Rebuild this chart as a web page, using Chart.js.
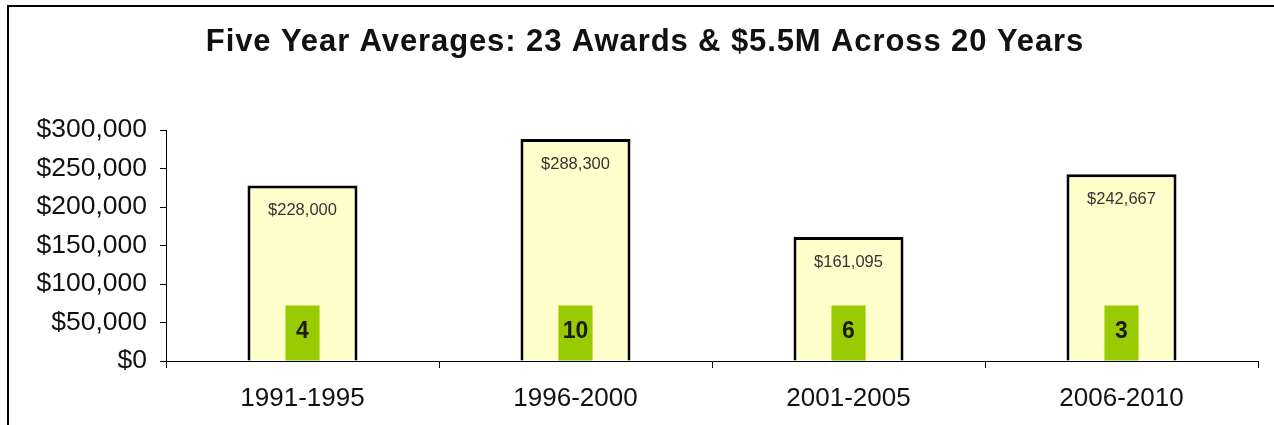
<!DOCTYPE html>
<html>
<head>
<meta charset="utf-8">
<script src="https://cdn.jsdelivr.net/npm/chart.js@4.4.1/dist/chart.umd.min.js"></script>
<style>
  html, body { margin: 0; padding: 0; background: #fff; overflow: hidden; }
  #wrap { position: relative; width: 1274px; height: 425px; }
  #frame { position: absolute; left: 7px; top: 5px; width: 1300px; height: 450px; border: 2px solid #000; pointer-events: none; }
  canvas { position: absolute; left: 0; top: 0; }
</style>
</head>
<body>
<div id="wrap">
  <canvas id="c" width="1274" height="425"></canvas>
  <div id="frame"></div>
</div>
<script>
const categories = ['1991-1995', '1996-2000', '2001-2005', '2006-2010'];
const averageAward = [228000, 288300, 161095, 242667];
const awardCounts = [4, 10, 6, 3];
const awardBoxHeight = [72000, 72000, 72000, 72000];
const titleText = 'Five Year Averages: 23 Awards & $5.5M Across 20 Years';
const yMin = 0, yMax = 300000, yStep = 50000;

const FONT = '"Liberation Sans", Arial, sans-serif';
const money = v => '$' + Math.round(v).toLocaleString('en-US');

const titlePlugin = {
  id: 'spacedTitle',
  afterDraw(chart) {
    const ctx = chart.ctx;
    ctx.save();
    ctx.font = 'bold 31px ' + FONT;
    ctx.fillStyle = '#111';
    ctx.textAlign = 'left';
    ctx.textBaseline = 'middle';
    const spacing = 0.9;
    if ('letterSpacing' in ctx) ctx.letterSpacing = spacing + 'px';
    const w = ctx.measureText(titleText).width;
    ctx.fillText(titleText, 645 - w / 2, 42);
    ctx.restore();
  }
};

const labelPlugin = {
  id: 'barLabels',
  afterDatasetsDraw(chart) {
    const ctx = chart.ctx;
    ctx.save();
    ctx.textAlign = 'center';
    ctx.textBaseline = 'middle';
    const metaY = chart.getDatasetMeta(1);
    metaY.data.forEach((bar, i) => {
      ctx.font = '16.5px ' + FONT;
      ctx.fillStyle = '#333';
      ctx.fillText(money(averageAward[i]), bar.x, bar.y + 25);
    });
    const metaG = chart.getDatasetMeta(0);
    metaG.data.forEach((bar, i) => {
      ctx.font = 'bold 23px ' + FONT;
      ctx.fillStyle = '#1a1a1a';
      ctx.fillText(String(awardCounts[i]), bar.x, (bar.y + bar.base) / 2 - 1);
    });
    ctx.restore();
  }
};

new Chart(document.getElementById('c'), {
  type: 'bar',
  data: {
    labels: categories,
    datasets: [
      {
        label: 'Awards',
        data: awardBoxHeight,
        backgroundColor: '#99CC00',
        borderWidth: 0,
        barPercentage: 0.125,
        categoryPercentage: 1,
        grouped: false
      },
      {
        label: 'Average Award',
        data: averageAward,
        backgroundColor: '#FFFFCC',
        borderColor: '#000',
        borderWidth: 3,
        borderSkipped: 'bottom',
        barPercentage: 0.403,
        categoryPercentage: 1,
        grouped: false
      }
    ]
  },
  options: {
    responsive: false,
    animation: false,
    devicePixelRatio: 1,
    layout: { padding: { top: 130, left: 0, right: 16, bottom: 0 } },
    plugins: {
      legend: { display: false },
      tooltip: { enabled: false },
      title: { display: false }
    },
    scales: {
      x: {
        grid: { display: true, drawOnChartArea: false, offset: true, color: '#000', tickLength: 7, lineWidth: 1 },
        border: { display: true, color: '#000', width: 1 },
        ticks: { color: '#111', font: { family: FONT, size: 26 }, padding: 15 },
        afterFit(scale) { scale.height = 64; }
      },
      y: {
        min: yMin,
        max: yMax,
        ticks: {
          stepSize: yStep,
          color: '#111',
          font: { family: FONT, size: 26.5 },
          padding: 13,
          callback: v => money(v)
        },
        grid: { display: true, drawOnChartArea: false, color: '#000', tickLength: 6, lineWidth: 1 },
        border: { display: true, color: '#000', width: 1 },
        afterFit(scale) { scale.width = 166; }
      }
    }
  },
  plugins: [labelPlugin, titlePlugin]
});
</script>
</body>
</html>
